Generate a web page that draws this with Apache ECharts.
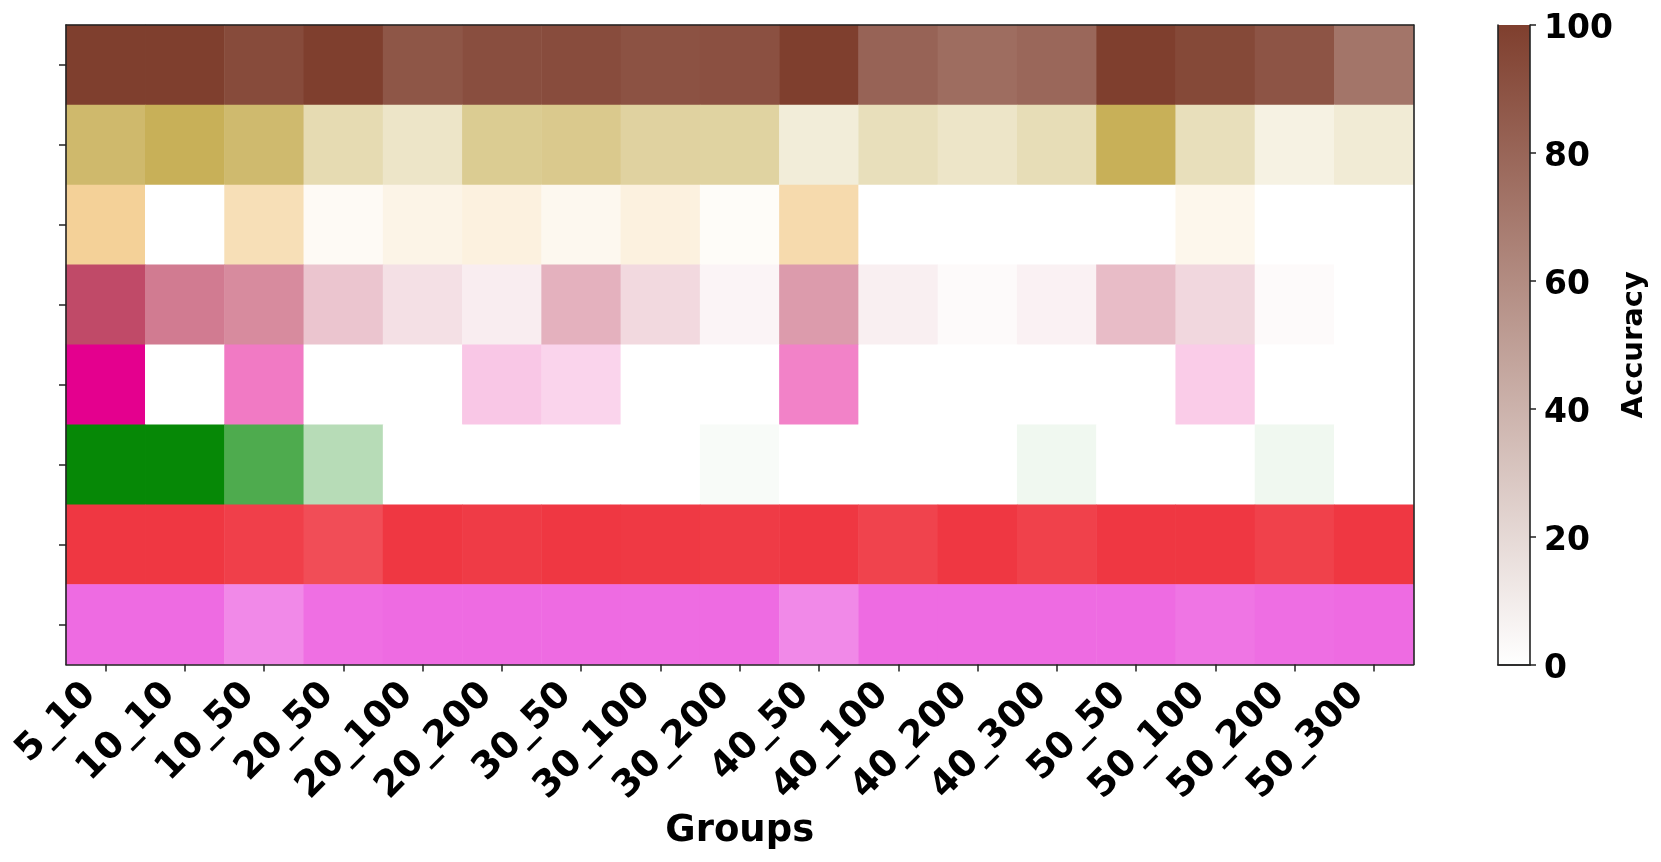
<!DOCTYPE html>
<html>
<head>
<meta charset="utf-8">
<script src="https://cdn.jsdelivr.net/npm/echarts@6/dist/echarts.min.js"></script>
<style>
html,body{margin:0;padding:0;background:#fff;}
#chart{width:1661px;height:862px;}
</style>
</head>
<body>
<div id="chart"></div>
<script>
const groups = ['5_10','10_10','10_50','20_50','20_100','20_200','30_50','30_100','30_200','40_50','40_100','40_200','40_300','50_50','50_100','50_200','50_300'];
const rowNames = ['Row 1','Row 2','Row 3','Row 4','Row 5','Row 6','Row 7','Row 8'];
const row1 = [100,100,94,100,88,92,93,90,91,100,81,76,79,100,95,89,72];
const row2 = [88,100,87,46,33,65,68,57,56,23,41,33,43,100,41,17,25];
const row3 = [100,0,70,10,23,31,16,31,7,80,0,0,0,0,18,0,0];
const row4 = [100,73,64,32,17,10,43,21,6,55,9,3,8,37,22,3,0];
const row5 = [100,0,52,0,0,22,17,0,0,49,0,0,0,0,20,0,0];
const row6 = [100,100,71,29,0,0,0,0,3,0,0,0,6,0,0,6,0];
const row7 = [100,100,96,89,100,98,100,99,98,100,94,100,95,100,100,95,100];
const row8 = [100,100,80,97,100,100,100,99,100,80,100,100,100,100,93,98,100];
const colorbarTicks = [0,20,40,60,80,100];
const rows = [row1,row2,row3,row4,row5,row6,row7,row8];
const rowColors = ['#7F3F2E','#C8B058','#F4D198','#C04A68','#E4008E','#068806','#EF3742','#EE6BE2'];

const FONT = 'DejaVu Sans';
const chart = echarts.init(document.getElementById('chart'), null, {renderer:'canvas'});

const series = rows.map((vals, r) => ({
  type: 'heatmap',
  xAxisIndex: 0, yAxisIndex: 0,
  data: vals.map((v, c) => [c, r, v]),
  itemStyle: {borderWidth: 0},
  emphasis: {disabled: true},
  progressive: 0
}));
series.push({
  type: 'bar', xAxisIndex: 2, yAxisIndex: 3,
  data: [colorbarTicks[colorbarTicks.length-1]],
  barWidth: '100%',
  itemStyle: {color: new echarts.graphic.LinearGradient(0,0,0,1,[{offset:0,color:rowColors[0]},{offset:1,color:'#ffffff'}])},
  silent: true
});

const visualMap = rows.map((vals, r) => ({
  type: 'continuous', show: false, seriesIndex: r, dimension: 2,
  min: 0, max: 100, inRange: {color: ['#ffffff', rowColors[r]]}
}));

const frameLine = {show: true, lineStyle: {color: '#222', width: 1.6}};

const option = {
  backgroundColor: '#ffffff',
  animation: false,
  grid: [
    {left: 66, top: 25, width: 1347.5, height: 639.5},
    {left: 1498, top: 25, width: 32, height: 639.5}
  ],
  visualMap: visualMap,
  xAxis: [
    {type: 'category', gridIndex: 0, data: groups, position: 'bottom', z: 10,
     axisLine: frameLine,
     axisTick: {show: true, alignWithLabel: true, length: 7, lineStyle: {color: '#222', width: 1.5}},
     axisLabel: {rotate: 45, interval: 0, margin: 9, padding: [0, 22, 0, 0], fontFamily: FONT, fontWeight: 'bold', fontSize: 37, color: '#000'},
     name: 'Groups', nameLocation: 'middle', nameGap: 147,
     nameTextStyle: {fontFamily: FONT, fontWeight: 'bold', fontSize: 37, color: '#000'},
     splitLine: {show: false}},
    {type: 'category', gridIndex: 0, data: groups, position: 'top', z: 10,
     axisLine: frameLine, axisTick: {show: false}, axisLabel: {show: false}},
    {type: 'category', gridIndex: 1, data: ['c'], position: 'bottom', z: 10,
     axisLine: frameLine, axisTick: {show: false}, axisLabel: {show: false}},
    {type: 'category', gridIndex: 1, data: ['c'], position: 'top', z: 10,
     axisLine: frameLine, axisTick: {show: false}, axisLabel: {show: false}}
  ],
  yAxis: [
    {type: 'category', gridIndex: 0, data: rowNames, inverse: true, position: 'left', z: 10,
     axisLine: frameLine,
     axisTick: {show: true, alignWithLabel: true, length: 7, lineStyle: {color: '#222', width: 1.5}},
     axisLabel: {show: false}, splitLine: {show: false}},
    {type: 'category', gridIndex: 0, data: rowNames, inverse: true, position: 'right', z: 10,
     axisLine: frameLine, axisTick: {show: false}, axisLabel: {show: false}},
    {type: 'value', gridIndex: 1, min: 0, max: 100, position: 'left', z: 10,
     axisLine: frameLine, axisTick: {show: false}, axisLabel: {show: false}, splitLine: {show: false}},
    {type: 'value', gridIndex: 1, min: 0, max: 100, interval: 20, position: 'right', z: 10,
     axisLine: frameLine,
     axisTick: {show: true, length: 6, lineStyle: {color: '#222', width: 1.5}},
     axisLabel: {margin: 14, verticalAlign: 'top', lineHeight: 9, fontFamily: FONT, fontWeight: 'bold', fontSize: 33, color: '#000'},
     splitLine: {show: false},
     name: 'Accuracy', nameLocation: 'middle', nameRotate: 90, nameGap: 90,
     nameTextStyle: {fontFamily: FONT, fontWeight: 'bold', fontSize: 29, color: '#000'}}
  ],
  series: series
};
chart.setOption(option);
</script>
</body>
</html>
